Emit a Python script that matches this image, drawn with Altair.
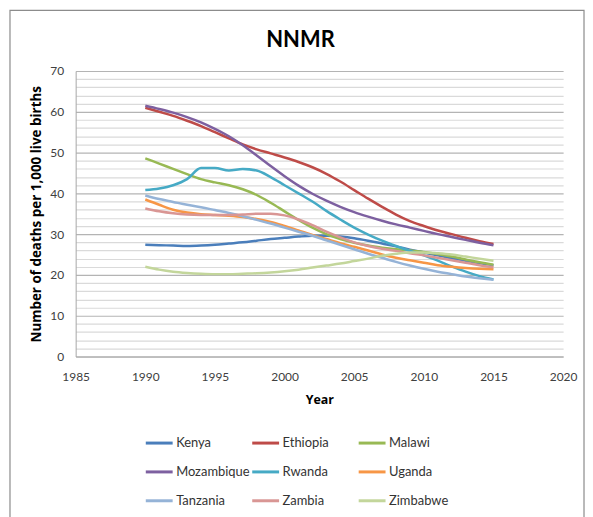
import altair as alt
import pandas as pd

years = list(range(1990, 2016))

countries = ["Kenya", "Ethiopia", "Malawi", "Mozambique", "Rwanda", "Uganda",
             "Tanzania", "Zambia", "Zimbabwe"]
colors = ["#4A7EBB", "#BE4B48", "#98B954", "#7D60A0", "#46AAC5", "#F79646",
          "#95B3D7", "#D99694", "#C3D69B"]

kenya = [27.4, 27.3, 27.2, 27.1, 27.2, 27.4, 27.7, 28.0, 28.4, 28.8, 29.1, 29.4, 29.6,
         29.6, 29.4, 29.0, 28.4, 27.7, 27.0, 26.2, 25.5, 24.8, 24.1, 23.5, 22.9, 22.4]
ethiopia = [61.0, 60.0, 59.0, 57.8, 56.5, 55.0, 53.5, 52.0, 50.8, 49.8, 48.8, 47.7, 46.4,
            44.8, 42.9, 40.8, 38.7, 36.7, 34.8, 33.2, 32.0, 30.9, 30.0, 29.1, 28.3, 27.6]
malawi = [48.6, 47.3, 46.0, 44.7, 43.5, 42.7, 42.0, 41.0, 39.6, 37.7, 35.6, 33.5, 31.6,
          30.0, 28.8, 27.9, 27.2, 26.7, 26.3, 26.0, 25.6, 25.1, 24.5, 23.8, 23.1, 22.5]
mozambique = [61.5, 60.7, 59.8, 58.7, 57.4, 55.8, 54.0, 51.8, 49.3, 46.7, 44.2, 41.9, 39.9,
              38.2, 36.7, 35.4, 34.3, 33.3, 32.4, 31.6, 30.8, 30.0, 29.3, 28.6, 27.9, 27.3]
rwanda = [40.8, 41.2, 42.0, 43.5, 46.2, 46.2, 45.6, 46.0, 45.6, 44.0, 42.0, 40.0, 38.0,
          35.7, 33.6, 31.6, 29.9, 28.4, 27.1, 25.9, 24.8, 23.5, 22.1, 20.8, 19.7, 18.9]
uganda = [38.5, 37.2, 36.0, 35.3, 34.9, 34.7, 34.5, 34.2, 33.7, 33.0, 32.0, 30.9, 29.8,
          28.8, 27.8, 26.9, 26.0, 25.0, 24.2, 23.6, 23.0, 22.4, 22.0, 21.7, 21.5, 21.4]
tanzania = [39.5, 38.6, 37.9, 37.2, 36.6, 35.9, 35.2, 34.4, 33.5, 32.6, 31.6, 30.6, 29.6,
            28.5, 27.4, 26.3, 25.2, 24.2, 23.2, 22.3, 21.5, 20.8, 20.2, 19.6, 19.2, 18.8]
zambia = [36.3, 35.6, 35.1, 34.8, 34.7, 34.7, 34.7, 34.8, 35.0, 35.0, 34.6, 33.6, 32.2,
          30.6, 29.2, 28.0, 27.1, 26.4, 25.9, 25.3, 24.8, 24.2, 23.6, 23.0, 22.4, 21.9]
zimbabwe = [22.0, 21.3, 20.8, 20.5, 20.3, 20.2, 20.2, 20.3, 20.4, 20.6, 20.9, 21.3, 21.8,
            22.3, 22.8, 23.4, 24.0, 24.7, 25.2, 25.5, 25.5, 25.3, 25.0, 24.5, 24.0, 23.5]

series = [kenya, ethiopia, malawi, mozambique, rwanda, uganda, tanzania, zambia, zimbabwe]

x_ticks = [1985, 1990, 1995, 2000, 2005, 2010, 2015, 2020]
y_grid = list(range(0, 71, 2))

rows = []
for i, (c, vals) in enumerate(zip(countries, series)):
    for yr, v in zip(years, vals):
        rows.append({"Year": yr, "Country": c, "Value": v, "order": i})
df = pd.DataFrame(rows)

FONT = "Lato"
TFONT = "Open Sans"

lines = alt.Chart(df).mark_line(interpolate="monotone", strokeWidth=2.5).encode(
    x=alt.X("Year:Q",
            scale=alt.Scale(domain=[1985, 2020], nice=False, zero=False),
            axis=alt.Axis(values=x_ticks, format="d", title="Year", grid=False,
                          ticks=False, labelPadding=15, titlePadding=11,
                          domainColor="#a6a6a6", labelFlush=False)),
    y=alt.Y("Value:Q",
            scale=alt.Scale(domain=[0, 70], nice=False),
            axis=alt.Axis(values=y_grid,
                          labelExpr="datum.value % 10 === 0 ? datum.label : ''",
                          title="Number of deaths per 1,000 live births",
                          titleFontSize=13.5,
                          gridColor={"condition": {"test": "datum.value % 10 === 0",
                                                   "value": "#b4b4b4"},
                                     "value": "#dadada"},
                          gridWidth=1.2,
                          ticks=False, labelPadding=12, titlePadding=6,
                          domainColor="#a6a6a6")),
    color=alt.Color("Country:N",
                    scale=alt.Scale(domain=countries, range=colors),
                    sort=countries,
                    legend=alt.Legend(title=None, orient="none", legendX=69, legendY=359,
                                      direction="horizontal",
                                      columns=3, symbolType="stroke", symbolSize=729,
                                      symbolStrokeWidth=3, gridAlign="all",
                                      columnPadding=-4, rowPadding=7,
                                      labelFontSize=13, labelOffset=2, labelFont=FONT,
                                      labelColor="#333333")),
    order=alt.Order("order:Q"),
)

frame = alt.Chart(pd.DataFrame({"k": [0]})).mark_rect(
    fillOpacity=0, stroke="#8c8c8c", strokeWidth=1.2
).encode(x=alt.value(-66), x2=alt.value(511), y=alt.value(-61), y2=alt.value(450))

title = alt.Chart(pd.DataFrame({"t": ["NNMR"]})).mark_text(
    font=FONT, fontSize=22, fontWeight="bold", color="#000000"
).encode(x=alt.value(226), y=alt.value(-31), text="t:N")

chart = alt.layer(frame, lines, title).properties(
    width=490, height=287,
    padding={"left": 1, "top": 0, "right": 0, "bottom": 0},
).configure_view(strokeWidth=0).configure_axis(
    labelFont=FONT, labelFontSize=12, labelColor="#404040",
    titleFont=TFONT, titleFontSize=12.5, titleFontWeight="bold", titleColor="#000000",
)

chart.save("out.html", embed_options={"renderer": "svg", "actions": False})
